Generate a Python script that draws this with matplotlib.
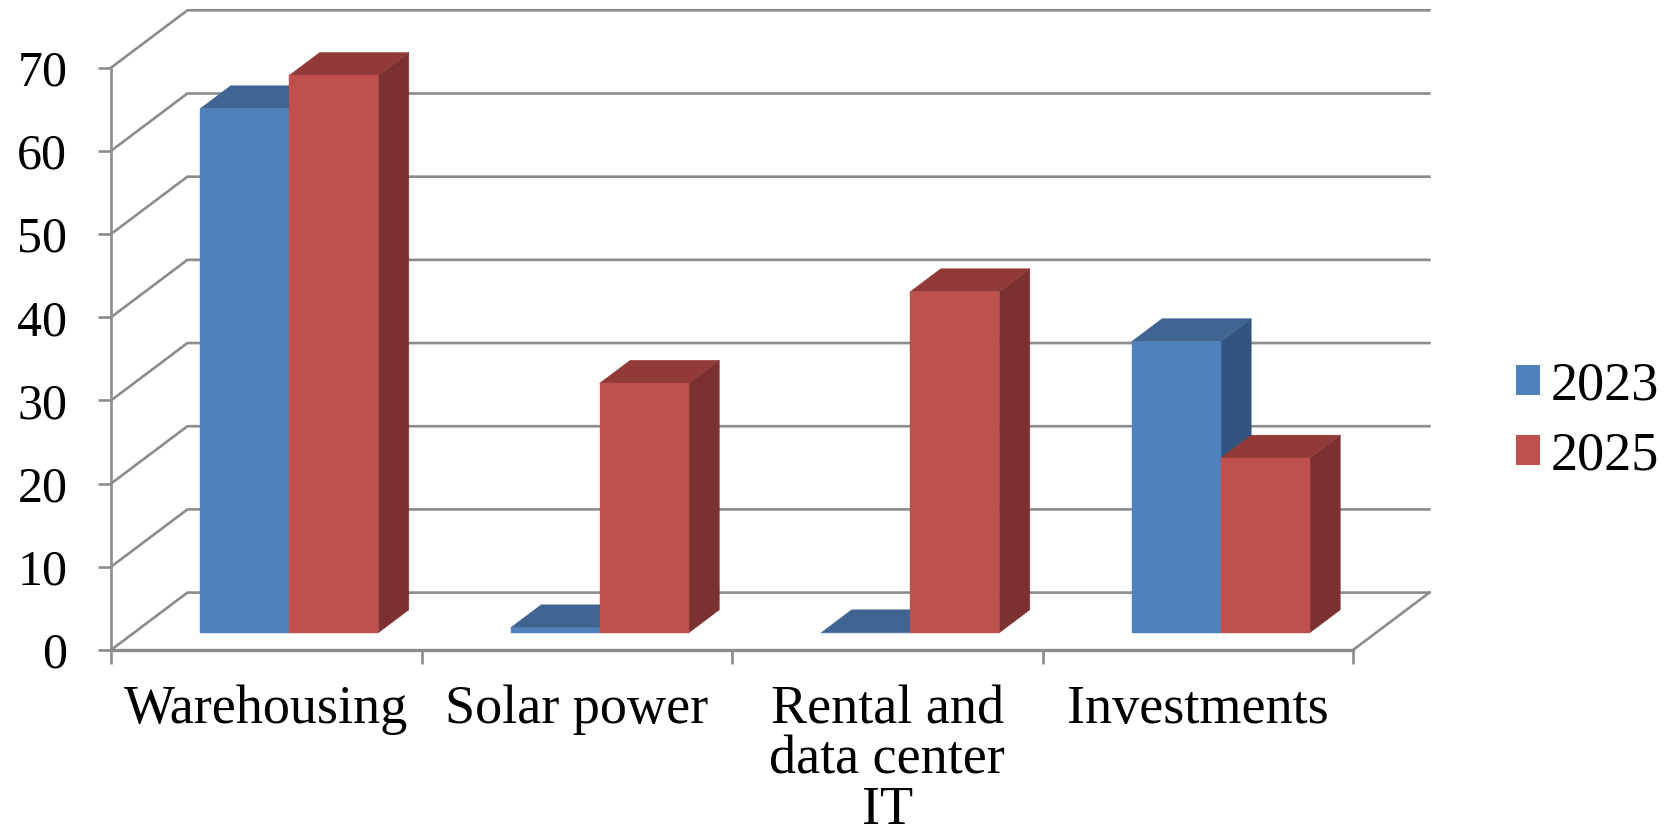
#!/usr/bin/env python3
# -*- coding: utf-8 -*-

import matplotlib
matplotlib.use( "Agg" )
import matplotlib.pyplot as plt
from matplotlib.patches import Polygon, Patch

# data
categories = [ "Warehousing", "Solar power", "Rental and\ndata center\nIT", "Investments" ]
series_names = [ "2023", "2025" ]
values_2023 = [ 63.0, 0.6, 0.0, 35.0 ]
values_2025 = [ 67.0, 30.0, 41.0, 21.0 ]
y_ticks = [ 0, 10, 20, 30, 40, 50, 60, 70 ]

# style
W, H = 1676, 838
LEFT, RIGHT, BOTTOM, TOP = 111, 1353, 650, 67.7   # plot plane in pixels
DEPTH_X = 0.246     # depth of the box in category units
DEPTH_Y = 6.9       # depth of the box in value units
BAR_W = 0.287
BAR_D0, BAR_D1 = 0.30, 0.70   # bar front/back as fraction of box depth
GRID = "#8c8c8c"
BLUE = ( "#4f81bd", "#3f6491", "#32557f" )  # front, top, side
RED = ( "#c0504d", "#913a38", "#7c3130" )
FONT = "Liberation Serif"

def pt( x, v, d ):
    # front plane coords + depth fraction
    return ( x + d * DEPTH_X, v + d * DEPTH_Y )

def draw_bar( ax, x, v, cols, z ):
    x1 = x + BAR_W
    front = [ pt( x, 0, BAR_D0 ), pt( x1, 0, BAR_D0 ), pt( x1, v, BAR_D0 ), pt( x, v, BAR_D0 ) ]
    top = [ pt( x, v, BAR_D0 ), pt( x1, v, BAR_D0 ), pt( x1, v, BAR_D1 ), pt( x, v, BAR_D1 ) ]
    side = [ pt( x1, 0, BAR_D0 ), pt( x1, 0, BAR_D1 ), pt( x1, v, BAR_D1 ), pt( x1, v, BAR_D0 ) ]
    for poly, c in [ ( side, cols[2] ), ( top, cols[1] ), ( front, cols[0] ) ]:
        ax.add_patch( Polygon( poly, closed=True, facecolor=c, edgecolor=c, linewidth=0.3, zorder=z, clip_on=False ) )

def main():

    plt.rcParams['font.family'] = [ FONT, 'DejaVu Serif' ]

    fig = plt.figure( figsize=( W / 100, H / 100 ), dpi=100 )
    ax = fig.add_axes( [ LEFT / W, 1 - BOTTOM / H, ( RIGHT - LEFT ) / W, ( BOTTOM - TOP ) / H ] )

    n = len( categories )
    ax.set_xlim( 0, n )
    ax.set_ylim( 0, y_ticks[-1] )

    # walls
    for v in y_ticks:
        xs, ys = zip( pt( 0, v, 0 ), pt( 0, v, 1 ), pt( n, v, 1 ) )
        ax.plot( xs, ys, color=GRID, linewidth=1.9, clip_on=False, zorder=1, solid_joinstyle="miter" )
    xs, ys = zip( pt( n, 0, 0 ), pt( n, 0, 1 ) )
    ax.plot( xs, ys, color=GRID, linewidth=1.9, clip_on=False, zorder=1 )

    # bars, 2023 first so 2025 sits over it
    for i in range( n ):
        x0 = i + 0.5 - BAR_W
        draw_bar( ax, x0, values_2023[i], BLUE, 3 + i * 2 )
        draw_bar( ax, x0 + BAR_W, values_2025[i], RED, 4 + i * 2 )

    # axes
    for s in [ "top", "right" ]:
        ax.spines[s].set_visible( False )
    ax.spines["left"].set_color( GRID )
    ax.spines["left"].set_linewidth( 1.9 )
    ax.spines["bottom"].set_color( GRID )
    ax.spines["bottom"].set_linewidth( 2.4 )
    ax.patch.set_alpha( 0 )

    ax.set_yticks( y_ticks )
    ax.tick_params( axis="y", length=9.5, width=1.9, color=GRID, pad=22, labelsize=36, labelcolor="black" )

    ax.set_xticks( range( n + 1 ) )
    ax.set_xticklabels( [] )
    ax.tick_params( axis="x", which="major", length=10, width=1.9, color=GRID )
    ax.set_xticks( [ i + 0.5 for i in range( n ) ], minor=True )
    ax.set_xticklabels( categories, minor=True, fontsize=39, linespacing=1.0, color="black" )
    ax.tick_params( axis="x", which="minor", length=0, pad=25 )

    # legend
    handles = [ Patch( facecolor=BLUE[0], edgecolor="none" ), Patch( facecolor=RED[0], edgecolor="none" ) ]
    fig.legend( handles, series_names, loc="center left", bbox_to_anchor=( 1516 / W, 1 - 421 / H ), frameon=False,
        fontsize=39, handlelength=0.44, handleheight=0.5, handletextpad=0.2, labelspacing=0.36,
        borderpad=0, borderaxespad=0 )

    fig.savefig( "out.png", dpi=100 )

if __name__ == "__main__":

    main()
